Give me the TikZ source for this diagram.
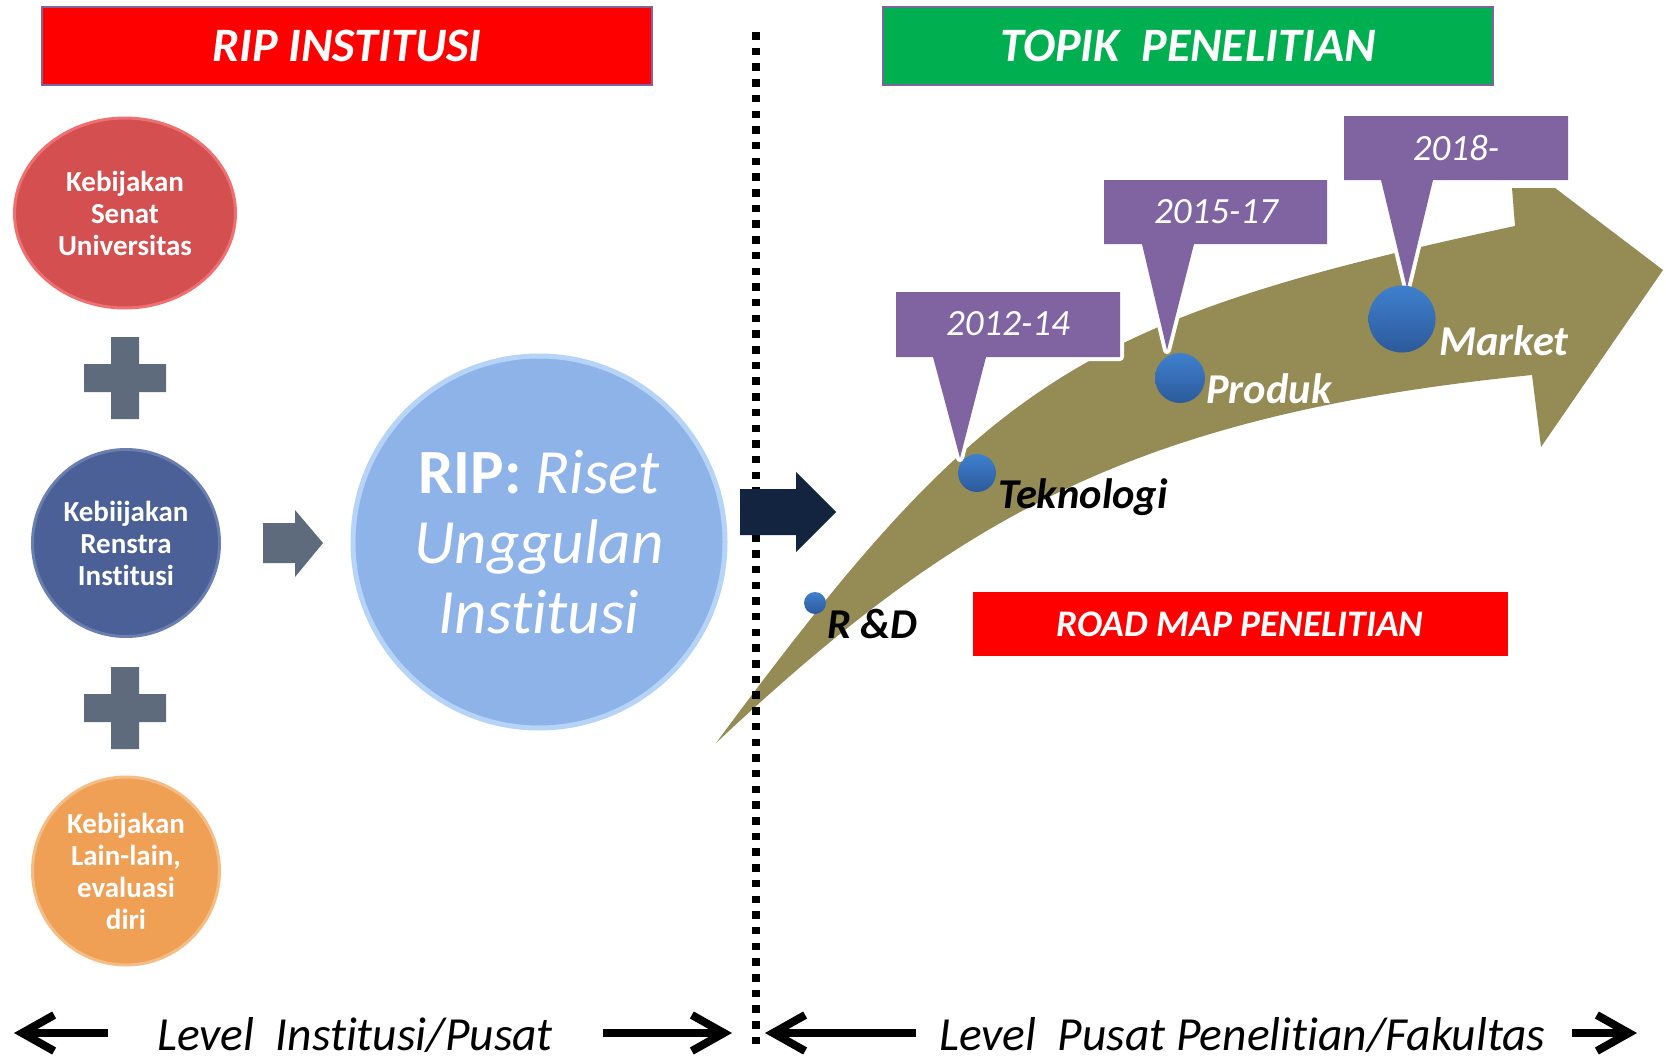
\documentclass[tikz,border=0pt]{standalone}
\usepackage{fontspec}
\setmainfont{Carlito}[Ligatures={NoCommon,NoRare,NoContextual}]
\usetikzlibrary{shapes.geometric,arrows.meta}
\definecolor{tred}{HTML}{FF0000}
\definecolor{tgreen}{HTML}{00B050}
\definecolor{tpurple}{HTML}{8064A2}
\definecolor{ered}{HTML}{D44F4F}
\definecolor{eredrim}{HTML}{EE7070}
\definecolor{eblue}{HTML}{4A6096}
\definecolor{ebluerim}{HTML}{6A7EB0}
\definecolor{eorange}{HTML}{F0A055}
\definecolor{eorangerim}{HTML}{F5BD86}
\definecolor{bigblue}{HTML}{8DB3E9}
\definecolor{bigrim}{HTML}{B5D4F7}
\definecolor{pgray}{HTML}{5D6B7D}
\definecolor{navy}{HTML}{12243F}
\definecolor{olive}{HTML}{958B55}
\definecolor{dottop}{HTML}{3F80CE}
\definecolor{dotbot}{HTML}{2C5A9B}
\begin{document}
\begin{tikzpicture}[x=1pt,y=-1pt,
  titlebox/.style={draw=tpurple, line width=2.5pt, minimum width=610pt, minimum height=78pt, text=white, font=\fontsize{48}{52}\selectfont\bfseries\itshape},
  policy/.style={ellipse, inner sep=0pt, text=white, align=center, font=\fontsize{29}{32}\selectfont\bfseries, line width=3pt},
  plusmark/.style={fill=pgray},
  callout/.style={fill=tpurple, preaction={draw=white, line width=8pt, line join=round}},
  calltext/.style={text=white, font=\fontsize{37}{40}\selectfont\itshape, inner sep=0pt},
  dot/.style={circle, inner sep=0pt, top color=dottop, bottom color=dotbot, draw=none},
  stage/.style={inner sep=0pt, anchor=base west, font=\fontsize{42.5}{46}\selectfont\bfseries\itshape},
  levelarrow/.style={line width=8pt, -{Straight Barb[length=32pt, width=36pt]}},
  leveltext/.style={anchor=base west, inner sep=0pt, font=\fontsize{47.5}{52}\selectfont\itshape}
]
\useasboundingbox[fill=white] (0,0) rectangle (1666,1063);

% titles
\node[titlebox, fill=tred] (riptitle) at (347,46) {RIP INSTITUSI};
\node[titlebox, fill=tgreen] (topiktitle) at (1188,46) {TOPIK\ \ PENELITIAN};

% left policies
\node[policy, fill=ered, draw=eredrim, minimum width=221pt, minimum height=190pt] (senat) at (125,213) {Kebijakan\\Senat\\Universitas};
\node[policy, fill=eblue, draw=ebluerim, minimum width=187pt, minimum height=187pt] (renstra) at (126,543) {Kebiijakan\\Renstra\\Institusi};
\node[policy, fill=eorange, draw=eorangerim, minimum width=187pt, minimum height=188pt] (lain) at (126,871) {Kebijakan\\Lain-lain,\\evaluasi\\diri};

% plus signs
\path[plusmark, shift={(125,378)}] (-14,-41) -- (14,-41) -- (14,-14) -- (41,-14) -- (41,14) -- (14,14) -- (14,41) -- (-14,41) -- (-14,14) -- (-41,14) -- (-41,-14) -- (-14,-14) -- cycle;
\path[plusmark, shift={(125,708)}] (-14,-41) -- (14,-41) -- (14,-14) -- (41,-14) -- (41,14) -- (14,14) -- (14,41) -- (-14,41) -- (-14,14) -- (-41,14) -- (-41,-14) -- (-14,-14) -- cycle;

% gray block arrow
\path[fill=pgray] (263,523) -- (295,523) -- (295,510) -- (323,543) -- (295,577) -- (295,563) -- (263,563) -- cycle;

% big circle
\node[circle, fill=bigblue, draw=bigrim, line width=5pt, minimum size=372pt, inner sep=0pt, text=white, align=center, font=\fontsize{63}{70}\selectfont] (rip) at (539,542) {{\bfseries RIP:} \textit{Riset}\\\textit{Unggulan}\\\textit{Institusi}};

% olive curved arrow
\path[fill=olive] (716,743) .. controls (984,381) and (1075,320) .. (1515,226) -- (1512,188) -- (1555,188) -- (1663,270) -- (1541,447) -- (1532,375) .. controls (1134,415) and (957,517) .. (716,743) -- cycle;

% dotted divider
\coordinate (divtop) at (756,32);
\coordinate (divbot) at (756,1047);
\draw[line width=7.5pt, dash pattern=on 7.5pt off 8.2pt] (divtop) -- (divbot);

% navy block arrow
\path[fill=navy] (740,489) -- (796,489) -- (796,472) -- (836,512) -- (796,552) -- (796,535) -- (740,535) -- cycle;

% callouts
\path[callout] (896,292) -- (1120,292) -- (1120,357) -- (986,357) -- (960,458) -- (933,357) -- (896,357) -- cycle;
\node[calltext] (c1) at (1008,324) {2012-14};
\path[callout] (1104,180) -- (1327,180) -- (1327,244) -- (1194,244) -- (1167,350) -- (1142,244) -- (1104,244) -- cycle;
\node[calltext] (c2) at (1216,212) {2015-17};
\path[callout] (1344,116) -- (1568,116) -- (1568,180) -- (1433,180) -- (1407,288) -- (1381,180) -- (1344,180) -- cycle;
\node[calltext] (c3) at (1456,148) {2018-};

% dots
\node[dot, minimum size=22pt] (drd) at (815,603) {};
\node[dot, minimum size=38pt] (dtek) at (977,473) {};
\node[dot, minimum size=50pt] (dprod) at (1180,378) {};
\node[dot, minimum size=67pt] (dmark) at (1402,319) {};

% stage labels
\node[stage, text=black] (lrd) at (827,638) {R \&D};
\node[stage, text=black] (ltek) at (998,508) {Teknologi};
\node[stage, text=white] (lprod) at (1206,403) {Produk};
\node[stage, text=white] (lmark) at (1439,355) {Market};

% road map
\node[fill=tred, minimum width=535pt, minimum height=64pt, text=white, font=\fontsize{37.5}{40}\selectfont\bfseries\itshape] (roadmap) at (1240,624) {ROAD MAP PENELITIAN};

% bottom levels
\coordinate (a1s) at (108,1033); \coordinate (a1e) at (14,1033);
\coordinate (a2s) at (603,1033); \coordinate (a2e) at (732,1033);
\coordinate (a3s) at (916,1033); \coordinate (a3e) at (765,1033);
\coordinate (a4s) at (1572,1033); \coordinate (a4e) at (1637,1033);
\draw[levelarrow] (a1s) -- (a1e);
\draw[levelarrow] (a2s) -- (a2e);
\draw[levelarrow] (a3s) -- (a3e);
\draw[levelarrow] (a4s) -- (a4e);
\node[leveltext] (lvl1) at (157,1050) {Level\ \ Institusi/Pusat};
\node[leveltext] (lvl2) at (939,1050) {Level\ \ Pusat Penelitian/Fakultas};
\end{tikzpicture}
\end{document}
